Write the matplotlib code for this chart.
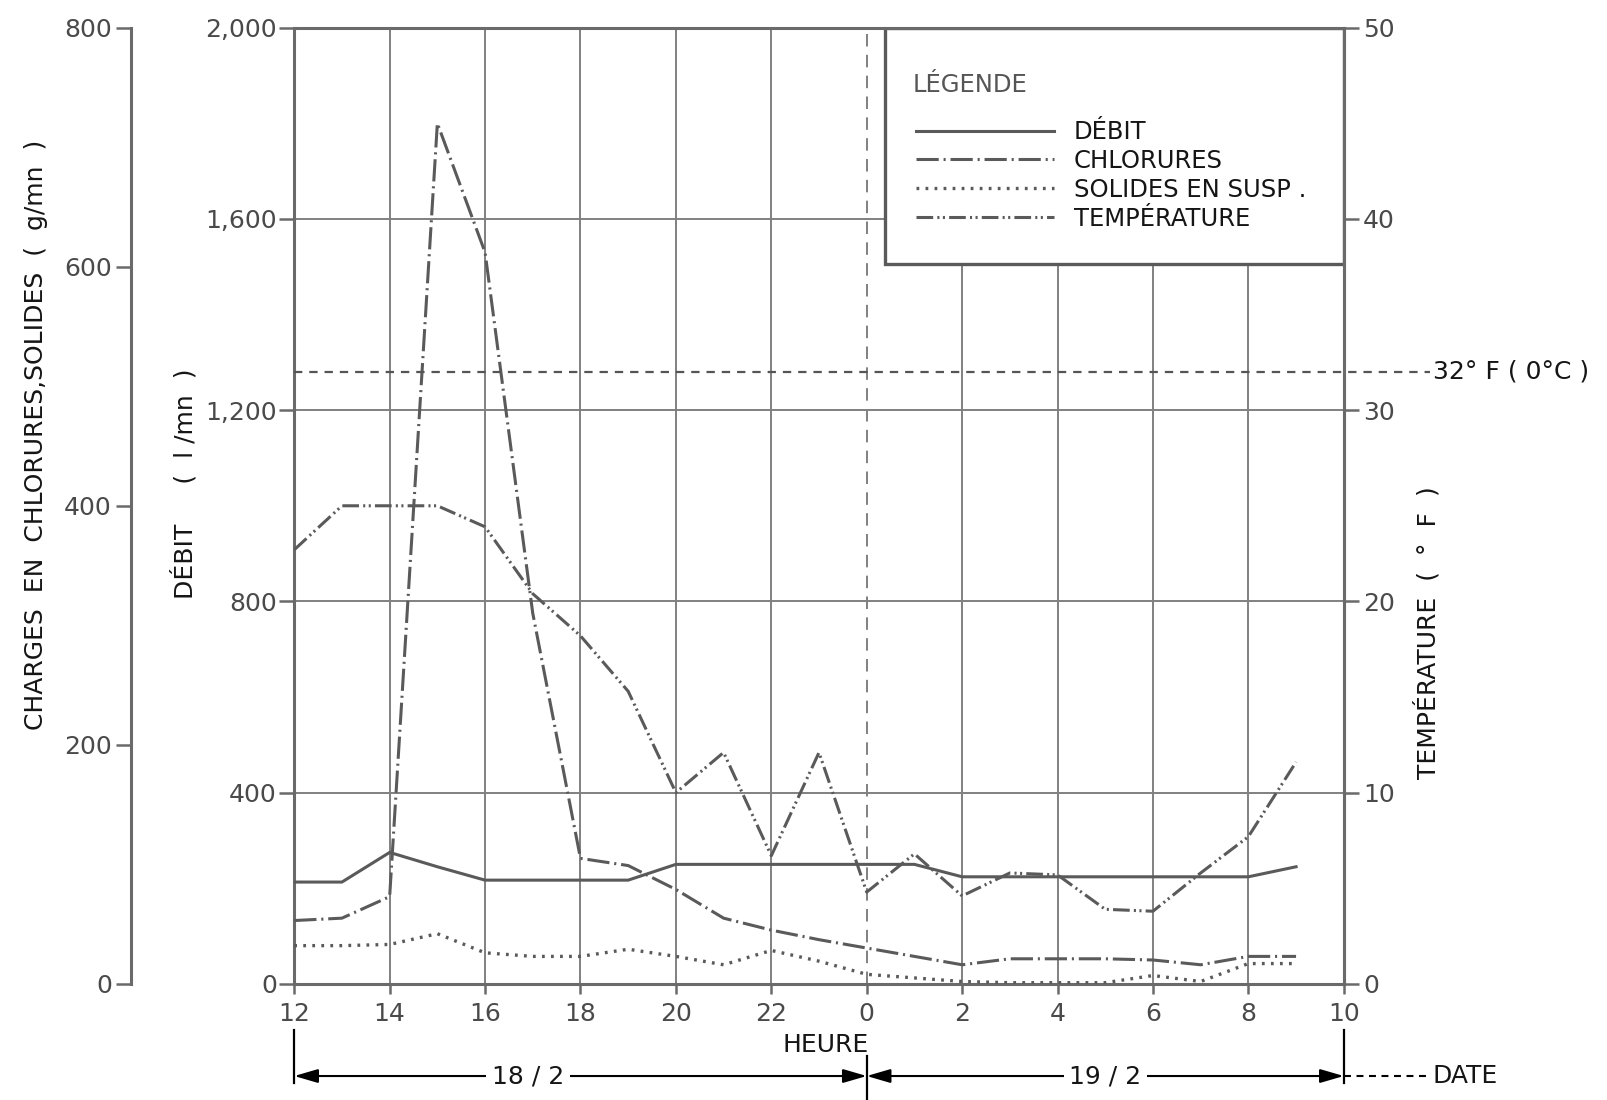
import matplotlib
matplotlib.use("Agg")
import matplotlib.pyplot as plt
from matplotlib import transforms
from matplotlib.patches import Rectangle

plt.rcParams['font.family'] = ['DejaVu Sans']
plt.rcParams['lines.scale_dashes'] = False

# ---------------- data ----------------
hours = [12, 13, 14, 15, 16, 17, 18, 19, 20, 21, 22, 23,
         24, 25, 26, 27, 28, 29, 30, 31, 32, 33]
debit = [213, 213, 275, 245, 217, 217, 217, 217, 250, 250, 250, 250,
         250, 250, 224, 224, 224, 224, 224, 224, 224, 245]            # l/mn
chlorures = [53, 55, 73, 720, 612, 310, 105, 99, 79, 55, 45, 37,
             30, 23, 16, 21, 21, 21, 20, 16, 23, 23]                   # g/mn
solides = [32, 32, 33, 42, 26, 23, 23, 29, 23, 16, 28, 19,
           8, 5, 2, 1, 1, 1, 7, 2, 17, 17]                             # g/mn
temperature = [22.7, 25.0, 25.0, 25.0, 23.9, 20.4, 18.2, 15.3, 10.0, 12.1, 6.7, 12.1,
               4.8, 6.8, 4.6, 5.8, 5.7, 3.9, 3.8, 5.8, 7.7, 11.6]       # °F

hour_ticks = [12, 14, 16, 18, 20, 22, 24, 26, 28, 30, 32, 34]
hour_labels = ['12', '14', '16', '18', '20', '22', '0', '2', '4', '6', '8', '10']
debit_ticks = [0, 400, 800, 1200, 1600, 2000]
debit_labels = ['0', '400', '800', '1,200', '1,600', '2,000']
charge_ticks = [0, 200, 400, 600, 800]
temp_ticks = [0, 10, 20, 30, 40, 50]
freezing_f = 32
date_bounds = [12, 24, 34]
date_labels = ['18 / 2', '19 / 2']
legend_labels = ['DÉBIT', 'CHLORURES', 'SOLIDES EN SUSP .', 'TEMPÉRATURE']

# ---------------- style ----------------
GRID = '#808080'
SPINE = '#6a6a6a'
LINE = '#5a5a5a'
TICKTXT = '#4a4a4a'
TXT = '#151515'
FS = 18
LFS = 17.5

fig = plt.figure(figsize=(16.07, 11.0), dpi=100)
ax = fig.add_axes([0.1831, 0.10555, 0.6531, 0.8693])
ax.set_xlim(12, 34)
ax.set_ylim(0, 2000)
ax.set_xticks(hour_ticks, hour_labels)
ax.set_yticks(debit_ticks, debit_labels)
ax.set_axisbelow(True)
ax.grid(True, color=GRID, lw=1.4)
ax.xaxis.get_gridlines()[6].set_linestyle((0, (9, 6)))
for s in ax.spines.values():
    s.set_color(SPINE)
    s.set_linewidth(2.2)
ax.tick_params(axis='x', direction='out', length=7, width=1.8, color=SPINE,
               labelsize=FS, labelcolor=TICKTXT, pad=6)
ax.tick_params(axis='y', direction='out', length=11, width=1.8, color=SPINE,
               labelsize=FS, labelcolor=TICKTXT, pad=1.5)

l_deb, = ax.plot(hours, debit, color=LINE, lw=2.2, zorder=3)

# charges axis (far left)
ax_c = ax.twinx()
ax_c.set_ylim(0, 800)
ax_c.yaxis.tick_left()
ax_c.yaxis.set_label_position('left')
ax_c.spines['left'].set_position(('axes', -0.1553))
for k in ['right', 'top', 'bottom']:
    ax_c.spines[k].set_visible(False)
ax_c.spines['left'].set_visible(True)
ax_c.spines['left'].set_color(SPINE)
ax_c.spines['left'].set_linewidth(2.2)
ax_c.set_yticks(charge_ticks)
ax_c.tick_params(axis='y', direction='out', length=11, width=1.8, color=SPINE,
                 labelsize=FS, labelcolor=TICKTXT, pad=3)
l_chl, = ax_c.plot(hours, chlorures, color=LINE, lw=2.2, ls=(0, (16, 3.5, 1.5, 3.5)))
l_sol, = ax_c.plot(hours, solides, color=LINE, lw=2.4, ls=(0, (2, 4.5)))

# temperature axis (right)
ax_t = ax.twinx()
ax_t.set_ylim(0, 50)
ax_t.set_yticks(temp_ticks)
for k in ['left', 'top', 'bottom']:
    ax_t.spines[k].set_visible(False)
ax_t.spines['right'].set_color(SPINE)
ax_t.spines['right'].set_linewidth(2.2)
ax_t.tick_params(axis='y', direction='out', length=11, width=1.8, color=SPINE,
                 labelsize=FS, labelcolor=TICKTXT, pad=3)
l_tmp, = ax_t.plot(hours, temperature, color=LINE, lw=2.2,
                   ls=(0, (12, 3, 1.5, 2.5, 1.5, 3)))
ax_t.axhline(freezing_f, xmin=0, xmax=1.082, clip_on=False, color='#555555',
             lw=1.6, ls=(0, (6, 5)))
ax_t.text(1.085, freezing_f, '32° F ( 0°C )', transform=transforms.blended_transform_factory(
    ax_t.transAxes, ax_t.transData), ha='left', va='center', fontsize=FS, color=TXT)

# legend box
ax.add_patch(Rectangle((0.5625, 0.7524), 0.4375, 0.2476, transform=ax.transAxes,
                       facecolor='white', edgecolor='#5a5a5a', lw=2.4, zorder=2))
ax.text(0.589, 0.94, 'LÉGENDE', transform=ax.transAxes, ha='left', va='center',
        fontsize=LFS, color='#555555', zorder=6)
leg = ax.legend([l_deb, l_chl, l_sol, l_tmp], legend_labels, loc='center left',
                bbox_to_anchor=(0.592, 0.8455), frameon=False, fontsize=LFS,
                handlelength=5.7, handletextpad=0.8, labelspacing=0.2,
                borderpad=0, borderaxespad=0)
for t in leg.get_texts():
    t.set_color(TXT)

# axis labels
fig.text(0.0223, 0.605, 'CHARGES  EN  CHLORURES,SOLIDES  (  g/mn  )', rotation=90,
         ha='center', va='center', fontsize=FS, color=TXT)
fig.text(0.1148, 0.56, 'DÉBIT     (  l /mn  )', rotation=90, ha='center', va='center',
         fontsize=FS, color=TXT)
fig.text(0.8884, 0.4246, 'TEMPÉRATURE  (  °  F  )', rotation=90, ha='center', va='center',
         fontsize=FS, color=TXT)

# date row
trans = transforms.blended_transform_factory(ax.transData, fig.transFigure)
ax.text(23.13, 0.0496, 'HEURE', transform=trans, ha='center', va='center',
        fontsize=FS, color=TXT)
y_arr = 0.0218
bar_spans = [(0.0155, 0.0636), (0.0003, 0.0403), (0.0155, 0.0636)]
for b, (y0, y1) in zip(date_bounds, bar_spans):
    ax.plot([b, b], [y0, y1], transform=trans, clip_on=False, color='black', lw=1.6)
label_x = [16.9, 29.0]
for (a, b), lab, lx in zip(zip(date_bounds[:-1], date_bounds[1:]), date_labels, label_x):
    ax.annotate('', xy=(a, y_arr), xytext=(b, y_arr), xycoords=trans, textcoords=trans,
                arrowprops=dict(arrowstyle='<|-|>,head_length=1.2,head_width=0.35',
                                color='black', lw=1.5, shrinkA=0, shrinkB=0,
                                mutation_scale=12), annotation_clip=False)
    ax.text(lx, y_arr, lab, transform=trans, ha='center', va='center', fontsize=FS,
            color=TXT, bbox=dict(facecolor='white', edgecolor='none', pad=4))
ax.plot([date_bounds[-1], 35.75], [y_arr, y_arr], transform=trans, clip_on=False,
        color='black', lw=1.5, ls=(0, (5, 4)))
ax.text(35.85, y_arr, 'DATE', transform=trans, ha='left', va='center', fontsize=FS,
        color=TXT)

fig.savefig('out.png', dpi=100, facecolor='white')
